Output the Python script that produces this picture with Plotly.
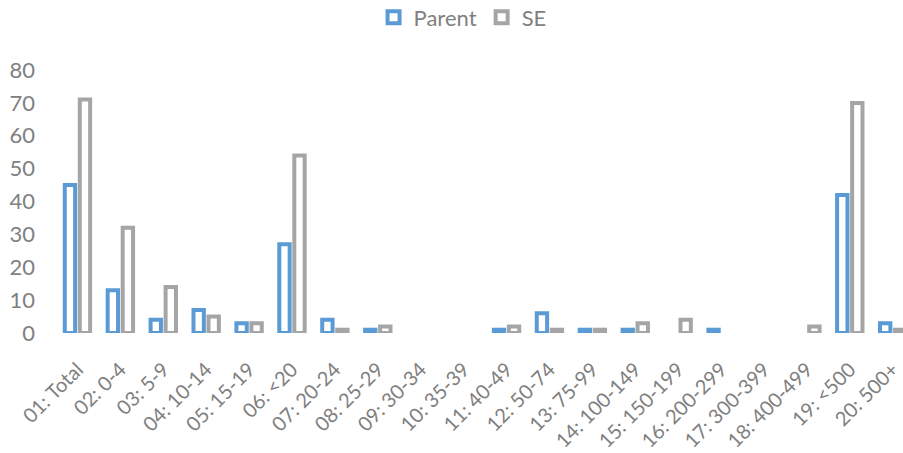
import plotly.graph_objects as go

categories = [
    "01: Total", "02: 0-4", "03: 5-9", "04: 10-14", "05: 15-19", "06: <20",
    "07: 20-24", "08: 25-29", "09: 30-34", "10: 35-39", "11: 40-49",
    "12: 50-74", "13: 75-99", "14: 100-149", "15: 150-199", "16: 200-299",
    "17: 300-399", "18: 400-499", "19: <500", "20: 500+",
]
parent = [45, 13, 4, 7, 3, 27, 4, 1, 0, 0, 1, 6, 1, 1, 0, 1, 0, 0, 42, 3]
se = [71, 32, 14, 5, 3, 54, 1, 2, 0, 0, 2, 1, 1, 3, 4, 0, 0, 2, 70, 1]

BLUE = "#5B9BD5"
GRAY = "#A5A5A5"
TEXT = "#808080"
FONT = "Lato"

fig = go.Figure()
for name, vals, col in [("Parent", parent, BLUE), ("SE", se, GRAY)]:
    # hollow bars; empty categories get no outline
    fig.add_trace(go.Bar(
        name=name, x=categories, y=vals,
        marker=dict(color="white",
                    line=dict(color=col, width=[4 if v else 0 for v in vals])),
        cliponaxis=False,
    ))

fig.update_layout(
    width=903, height=453,
    margin=dict(l=56, r=0, t=70, b=120, autoexpand=False),
    paper_bgcolor="white", plot_bgcolor="white",
    barmode="group", bargap=0.30, bargroupgap=0.31,
    font=dict(family=FONT, size=20, color=TEXT),
    showlegend=True,
    legend=dict(orientation="h", x=0.48, xanchor="center", y=1.20, yanchor="middle",
                font=dict(size=22, color=TEXT), itemwidth=30, traceorder="normal"),
)
fig.update_xaxes(
    type="category", range=[-0.5, 19.24], tickangle=-45,
    showgrid=False, zeroline=False, showline=False, ticks="",
    tickfont=dict(size=20, color=TEXT), ticklabelstandoff=20,
)
fig.update_yaxes(
    range=[0, 80], dtick=10, showgrid=False, zeroline=False, showline=False,
    ticks="", tickfont=dict(size=22, color=TEXT), ticklabelstandoff=20,
)

fig.write_html("out.html")
